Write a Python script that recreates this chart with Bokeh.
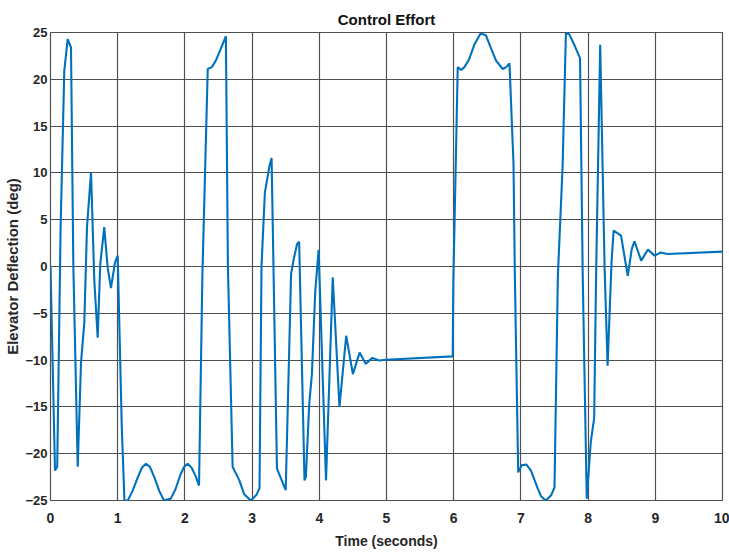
from bokeh.plotting import figure
from bokeh.models import Range1d, FixedTicker
from bokeh.embed import file_html
from bokeh.resources import INLINE

# Time samples (seconds) and elevator deflection (deg)
time_s = [0, 0.067, 0.10, 0.15, 0.205, 0.256, 0.305, 0.34, 0.405, 0.454, 0.503, 0.543, 0.603,
          0.652, 0.702, 0.741, 0.80, 0.85, 0.90, 0.96, 1.0, 1.06, 1.10, 1.15, 1.22, 1.30,
          1.36, 1.42, 1.48, 1.55, 1.62, 1.69, 1.79, 1.86, 1.93, 1.99, 2.04, 2.10, 2.16,
          2.21, 2.26, 2.34, 2.40, 2.46, 2.53, 2.61, 2.64, 2.71, 2.81, 2.88, 2.98, 3.06,
          3.11, 3.14, 3.19, 3.26, 3.29, 3.37, 3.50, 3.58, 3.62, 3.67, 3.70, 3.78, 3.80,
          3.85, 3.89, 3.94, 3.99, 4.10, 4.20, 4.30, 4.40, 4.50, 4.60, 4.69, 4.79, 4.89,
          4.99, 5.985, 5.995, 6.06, 6.11, 6.16, 6.23, 6.31, 6.40, 6.48, 6.55, 6.63, 6.73,
          6.78, 6.83, 6.89, 6.91, 6.96, 7.01, 7.08, 7.15, 7.25, 7.30, 7.37, 7.45, 7.50,
          7.55, 7.62, 7.67, 7.72, 7.79, 7.88, 7.92, 7.98, 8.04, 8.09, 8.12, 8.18, 8.245,
          8.29, 8.35, 8.38, 8.49, 8.59, 8.65, 8.69, 8.79, 8.89, 8.99, 9.08, 9.18, 10.0]
deflection_deg = [0, -21.8, -21.4, 4.0, 20.9, 24.3, 23.4, 0.0, -21.4, -10.3, -6.0, 4.2, 10.05,
                  -1.5, -7.6, 0.3, 4.2, -0.1, -2.3, 0.45, 1.16, -17.0, -25.0, -25.0, -24.0, -22.5,
                  -21.5, -21.07, -21.4, -22.6, -24.0, -25.0, -24.8, -23.8, -22.3, -21.4, -21.07, -21.5, -22.4,
                  -23.4, -1.0, 21.1, 21.3, 22.0, 23.2, 24.6, 0.0, -21.4, -22.85, -24.3, -25.0, -24.45,
                  -23.7, 0.0, 7.9, 10.8, 11.6, -21.6, -23.9, -0.8, 0.8, 2.4, 2.65, -22.85, -22.5,
                  -14.7, -11.5, -2.6, 1.77, -22.85, -1.15, -15.0, -7.4, -11.5, -9.2, -10.4, -9.76, -10.04,
                  -9.97, -9.6, -1.5, 21.3, 21.0, 21.3, 22.15, 23.75, 24.9, 24.7, 23.4, 22.0, 21.1,
                  21.3, 21.7, 10.95, -1.0, -22.0, -21.25, -21.15, -21.8, -23.7, -24.55, -25.0, -24.45, -23.6,
                  -1.0, 10.6, 25.0, 24.8, 23.75, 22.26, -1.0, -24.8, -18.75, -16.2, -0.5, 23.7, 0.0,
                  -10.6, 0.63, 3.83, 3.3, -1.0, 1.88, 2.7, 0.63, 1.8, 1.16, 1.5, 1.34, 1.59]

x_ticks = [0, 1, 2, 3, 4, 5, 6, 7, 8, 9, 10]
y_ticks = [-25, -20, -15, -10, -5, 0, 5, 10, 15, 20, 25]

FONT = "Liberation Sans"
GRID = "#505050"

p = figure(width=729, height=554, output_backend="svg", toolbar_location=None,
           x_range=Range1d(0, 10), y_range=Range1d(-25, 25),
           title="Control Effort",
           min_border_left=50, min_border_right=7, min_border_top=32, min_border_bottom=54)

p.line(time_s, deflection_deg, line_color="#0072BD", line_width=2.1)

p.title.align = "center"
p.title.text_font = FONT
p.title.text_font_size = "15px"
p.title.text_font_style = "bold"
p.title.text_color = "#111111"
p.title.standoff = 10

p.xaxis.ticker = FixedTicker(ticks=x_ticks)
p.yaxis.ticker = FixedTicker(ticks=y_ticks)

for ax in (p.xaxis, p.yaxis):
    ax.axis_line_color = None
    ax.major_tick_line_color = None
    ax.minor_tick_line_color = None
    ax.major_tick_out = 0
    ax.major_tick_in = 0
    ax.minor_tick_out = 0
    ax.minor_tick_in = 0
    ax.major_label_text_font = FONT
    ax.major_label_text_font_style = "bold"
    ax.major_label_text_font_size = "14px"
    ax.major_label_text_color = "#262626"
    ax.axis_label_text_font = FONT
    ax.axis_label_text_font_style = "bold"
    ax.axis_label_text_color = "#262626"

p.xaxis.axis_label = "Time (seconds)"
p.xaxis.axis_label_text_font_size = "14px"
p.xaxis.major_label_standoff = 12
p.xaxis.axis_label_standoff = 7

p.yaxis.axis_label = "Elevator Deflection (deg)"
p.yaxis.major_label_text_font_size = "13px"
p.yaxis.axis_label_text_font_size = "15px"
p.yaxis.major_label_standoff = 3
p.yaxis.axis_label_standoff = 1

p.xgrid.grid_line_color = GRID
p.ygrid.grid_line_color = GRID
p.xgrid.grid_line_width = 1.2
p.ygrid.grid_line_width = 1.2
p.outline_line_color = GRID
p.outline_line_width = 1.2

p.background_fill_color = "white"
p.border_fill_color = "white"

open("out.html", "w").write(file_html(p, INLINE))
